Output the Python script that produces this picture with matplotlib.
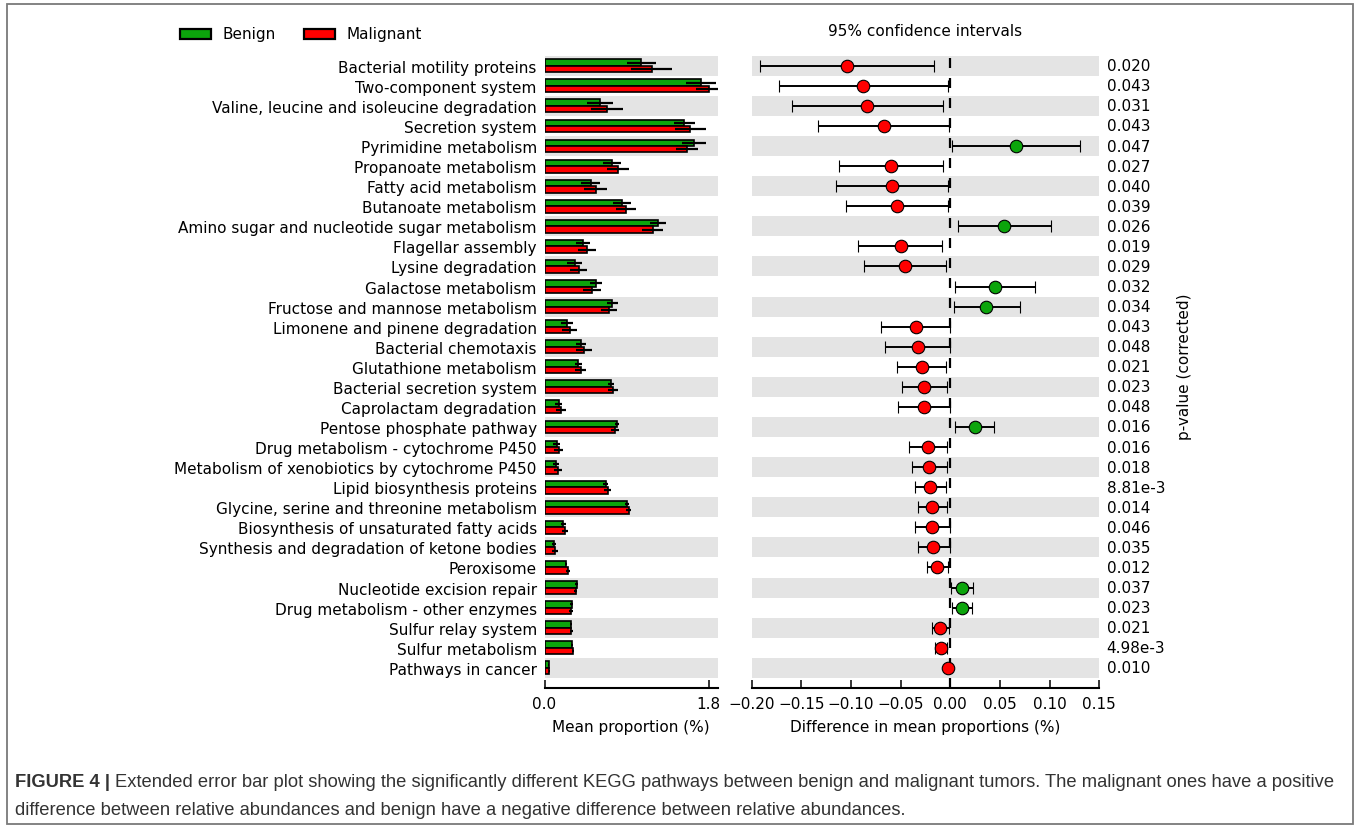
import matplotlib
matplotlib.use("Agg")
import matplotlib.pyplot as plt
from matplotlib.patches import Rectangle
from matplotlib.transforms import blended_transform_factory
import numpy as np

# ---- data -------------------------------------------------------------
pathways = [
    "Bacterial motility proteins",
    "Two-component system",
    "Valine, leucine and isoleucine degradation",
    "Secretion system",
    "Pyrimidine metabolism",
    "Propanoate metabolism",
    "Fatty acid metabolism",
    "Butanoate metabolism",
    "Amino sugar and nucleotide sugar metabolism",
    "Flagellar assembly",
    "Lysine degradation",
    "Galactose metabolism",
    "Fructose and mannose metabolism",
    "Limonene and pinene degradation",
    "Bacterial chemotaxis",
    "Glutathione metabolism",
    "Bacterial secretion system",
    "Caprolactam degradation",
    "Pentose phosphate pathway",
    "Drug metabolism - cytochrome P450",
    "Metabolism of xenobiotics by cytochrome P450",
    "Lipid biosynthesis proteins",
    "Glycine, serine and threonine metabolism",
    "Biosynthesis of unsaturated fatty acids",
    "Synthesis and degradation of ketone bodies",
    "Peroxisome",
    "Nucleotide excision repair",
    "Drug metabolism - other enzymes",
    "Sulfur relay system",
    "Sulfur metabolism",
    "Pathways in cancer",
]

benign_mean = [1.062, 1.714, 0.603, 1.532, 1.634, 0.741, 0.505, 0.844, 1.244, 0.421,
               0.330, 0.563, 0.741, 0.243, 0.402, 0.369, 0.730, 0.155, 0.796, 0.133,
               0.129, 0.672, 0.905, 0.205, 0.104, 0.235, 0.355, 0.297, 0.286, 0.301,
               0.046]
malignant_mean = [1.172, 1.798, 0.683, 1.598, 1.561, 0.800, 0.563, 0.894, 1.186, 0.468,
                  0.377, 0.519, 0.708, 0.275, 0.432, 0.396, 0.752, 0.180, 0.770, 0.155,
                  0.148, 0.691, 0.920, 0.224, 0.118, 0.254, 0.341, 0.290, 0.293, 0.311,
                  0.052]
benign_err = [0.156, 0.166, 0.142, 0.118, 0.131, 0.098, 0.106, 0.098, 0.085, 0.077,
              0.079, 0.069, 0.060, 0.066, 0.055, 0.040, 0.035, 0.042, 0.022, 0.035,
              0.033, 0.027, 0.022, 0.027, 0.024, 0.014, 0.016, 0.013, 0.011, 0.009,
              0.003]
malignant_err = [0.222, 0.137, 0.178, 0.166, 0.124, 0.120, 0.126, 0.109, 0.115, 0.100,
                 0.093, 0.100, 0.084, 0.080, 0.084, 0.060, 0.052, 0.058, 0.047, 0.047,
                 0.047, 0.035, 0.030, 0.036, 0.035, 0.022, 0.020, 0.022, 0.016, 0.011,
                 0.003]

diff_mean = [-0.104, -0.088, -0.084, -0.067, 0.066, -0.060, -0.059, -0.054, 0.054, -0.050,
             -0.046, 0.045, 0.036, -0.035, -0.033, -0.029, -0.027, -0.027, 0.0245, -0.0225,
             -0.021, -0.020, -0.018, -0.018, -0.017, -0.013, 0.012, 0.012, -0.010, -0.0094,
             -0.0024]
ci_low = [-0.192, -0.1725, -0.159, -0.133, 0.0013, -0.1126, -0.115, -0.105, 0.0074, -0.0925,
          -0.0867, 0.0044, 0.0034, -0.0696, -0.066, -0.054, -0.049, -0.053, 0.0047, -0.0414,
          -0.0387, -0.0356, -0.0323, -0.0356, -0.033, -0.0239, 0.0007, 0.0013, -0.0185, -0.0151,
          -0.0040]
ci_high = [-0.0165, -0.0027, -0.0077, -0.0014, 0.131, -0.007, -0.0027, -0.002, 0.101, -0.0084,
           -0.0047, 0.085, 0.070, -0.0003, 0.0, -0.004, -0.0034, 0.0, 0.044, -0.0037,
           -0.0034, -0.0047, -0.0034, 0.0, -0.0007, -0.0027, 0.0232, 0.0215, -0.0017, -0.0034,
           -0.0008]
p_values = ["0.020", "0.043", "0.031", "0.043", "0.047", "0.027", "0.040", "0.039", "0.026",
            "0.019", "0.029", "0.032", "0.034", "0.043", "0.048", "0.021", "0.023", "0.048",
            "0.016", "0.016", "0.018", "8.81e-3", "0.014", "0.046", "0.035", "0.012", "0.037",
            "0.023", "0.021", "4.98e-3", "0.010"]

group_names = ["Benign", "Malignant"]
left_ticks = [0.0, 1.8]
right_ticks = [-0.20, -0.15, -0.10, -0.05, 0.00, 0.05, 0.10, 0.15]

# ---- style ------------------------------------------------------------
GREEN = "#0ca50c"
RED = "#ff0000"
BAND = "#e4e4e4"
FS = 11
W, H = 1360, 829
plt.rcParams["font.family"] = ["DejaVu Sans"]
plt.rcParams["font.size"] = FS


def fx(px):
    return px / W


def fy(py):
    return 1 - py / H


fig = plt.figure(figsize=(W / 100, H / 100), dpi=100)
ax_bar = fig.add_axes([fx(544.5), fy(688.9), fx(173.5), fy(56.7) - fy(688.9)])
ax_ci = fig.add_axes([fx(751.7), fy(688.9), fx(347.6), fy(56.7) - fy(688.9)])

n = len(pathways)
y = np.arange(n)

for ax in (ax_bar, ax_ci):
    for i in range(0, n, 2):
        ax.axhspan(i - 0.5, i + 0.5, color=BAND, lw=0, zorder=0)
    ax.set_ylim(n, -0.5)
    for s in ("left", "right", "top"):
        ax.spines[s].set_visible(False)
    ax.spines["bottom"].set_linewidth(1.5)
    ax.tick_params(axis="x", direction="in", length=6, width=1.1, pad=5.5,
                   labelsize=FS)

# Mean proportion bars
bh = 0.32
ax_bar.barh(y - bh / 2, benign_mean, height=bh, color=GREEN, edgecolor="black",
            lw=1.2, zorder=2)
ax_bar.barh(y + bh / 2, malignant_mean, height=bh, color=RED, edgecolor="black",
            lw=1.2, zorder=2)
ax_bar.errorbar(benign_mean, y - bh / 2, xerr=benign_err, fmt="none", ecolor="black",
                elinewidth=1.6, capsize=0, zorder=3)
ax_bar.errorbar(malignant_mean, y + bh / 2, xerr=malignant_err, fmt="none", ecolor="black",
                elinewidth=1.6, capsize=0, zorder=3)
ax_bar.set_xlim(0, 1.9)
ax_bar.set_xticks(left_ticks)
ax_bar.set_xticklabels([f"{t:.1f}" for t in left_ticks])
ax_bar.set_yticks(y)
ax_bar.set_yticklabels(pathways, fontsize=FS)
ax_bar.tick_params(axis="y", length=0, pad=5.5)
ax_bar.set_xlabel("Mean proportion (%)", fontsize=FS, labelpad=6)

# Difference with 95% confidence intervals
ax_ci.axvline(0, color="black", lw=1.6, ls=(0, (4.5, 4.5)), zorder=1)
for i in range(n):
    col = GREEN if diff_mean[i] > 0 else RED
    ax_ci.errorbar(diff_mean[i], y[i],
                   xerr=[[diff_mean[i] - ci_low[i]], [ci_high[i] - diff_mean[i]]],
                   fmt="o", color=col, mec="black", mew=0.8, ms=9,
                   ecolor="black", elinewidth=1.4, capsize=4.5, capthick=1.3, zorder=3)
ax_ci.set_xlim(-0.20, 0.15)
ax_ci.set_xticks(right_ticks)
ax_ci.set_xticklabels([f"{t:.2f}".replace("-", "\u2212") for t in right_ticks])
ax_ci.set_yticks([])
ax_ci.set_xlabel("Difference in mean proportions (%)", fontsize=FS, labelpad=6)

tr = blended_transform_factory(ax_ci.transAxes, ax_ci.transData)
for i, p in enumerate(p_values):
    ax_ci.text(1.021, y[i], p, transform=tr, ha="left", va="center", fontsize=FS)

fig.text(fx(1185), fy(367), "p-value (corrected)", rotation=90, ha="center",
         va="center", fontsize=FS)
fig.text(fx(925.5), fy(32), "95% confidence intervals", ha="center", va="center",
         fontsize=FS)

# Legend
for (x0, label), col in zip([(180, group_names[0]), (304, group_names[1])], [GREEN, RED]):
    fig.add_artist(Rectangle((fx(x0), fy(40)), fx(31), fy(29.5) - fy(40),
                             transform=fig.transFigure, facecolor=col,
                             edgecolor="black", lw=1.6))
    fig.text(fx(x0 + 43), fy(34.5), label, ha="left", va="center", fontsize=FS)

# Frame and caption
fig.add_artist(Rectangle((fx(7), fy(825)), fx(1346), fy(5) - fy(825),
                         transform=fig.transFigure, fill=False, edgecolor="#7a7a7a",
                         lw=1.3))
cap_font = dict(family="Liberation Sans", fontsize=13.2, color="#333333", va="center")
renderer = fig.canvas.get_renderer()
head = fig.text(fx(15), fy(783), "FIGURE 4 |", fontweight="bold", **cap_font)
bb = head.get_window_extent(renderer=renderer)
fig.text(fx(bb.x1 + 5), fy(783),
         "Extended error bar plot showing the significantly different KEGG pathways "
         "between benign and malignant tumors. The malignant ones have a positive",
         **cap_font)
fig.text(fx(15), fy(811),
         "difference between relative abundances and benign have a negative difference "
         "between relative abundances.", **cap_font)

fig.savefig("out.png", dpi=100)
